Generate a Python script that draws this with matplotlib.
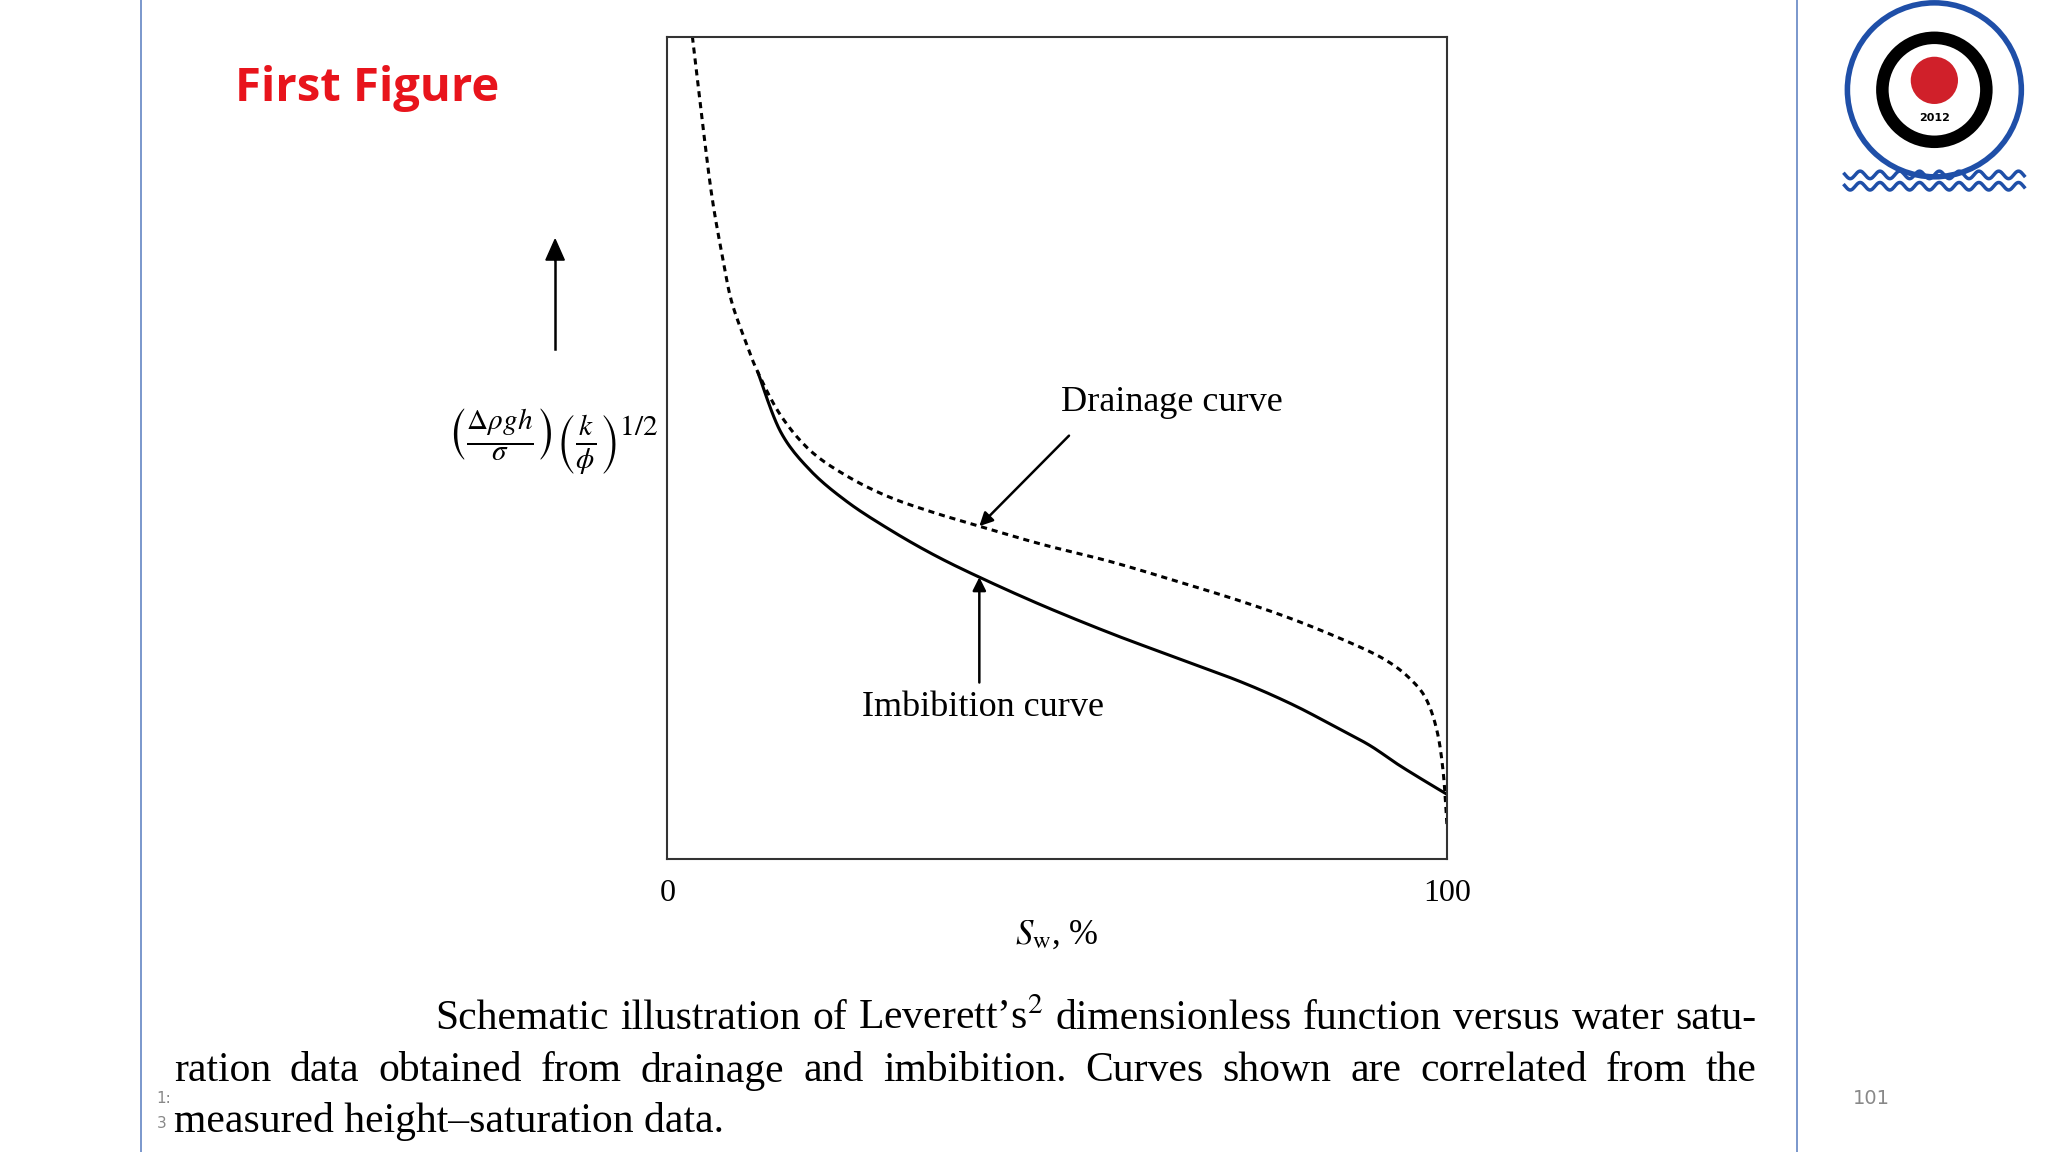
import matplotlib
matplotlib.use("Agg")
import matplotlib.pyplot as plt
import numpy as np
from matplotlib.patches import Circle

plt.rcParams['mathtext.fontset'] = 'stix'
serif = 'Liberation Serif'

drain_x = [3.2, 4.5, 5.7, 7.0, 8.2, 10.0, 11.6, 14.5, 18.3, 23.0, 28.3, 34.0, 40.0, 48.0, 56.8, 65.0, 73.5, 81.0, 88.6, 92.5, 95.3, 97.3, 98.7, 99.5, 100.0]
drain_y = [100, 89.5, 80.6, 73.5, 67.9, 63.0, 59.2, 54.0, 49.7, 46.6, 44.1, 42.2, 40.5, 38.3, 36.2, 33.9, 31.4, 28.9, 25.9, 24.0, 21.9, 19.5, 15.6, 10.5, 3.7]
imb_x = [11.6, 14.5, 18.3, 23.0, 28.3, 34.0, 40.0, 48.0, 56.8, 65.0, 73.5, 80.0, 85.3, 90.0, 93.6, 97.0, 100.0]
imb_y = [59.2, 52.0, 47.3, 43.5, 40.2, 37.1, 34.3, 30.9, 27.5, 24.6, 21.6, 18.9, 16.3, 13.9, 11.6, 9.6, 7.9]


def smooth(xs, ys, n=12):
    """Catmull-Rom rendering path through the read points."""
    P = np.column_stack([xs, ys]).astype(float)
    P = np.vstack([P[0], P, P[-1]])
    out = []
    for i in range(1, len(P) - 2):
        p0, p1, p2, p3 = P[i - 1], P[i], P[i + 1], P[i + 2]
        for t in np.linspace(0, 1, n, endpoint=False):
            t2, t3 = t * t, t * t * t
            out.append(0.5 * ((2 * p1) + (-p0 + p2) * t + (2 * p0 - 5 * p1 + 4 * p2 - p3) * t2
                              + (-p0 + 3 * p1 - 3 * p2 + p3) * t3))
    out.append(P[-2])
    out = np.array(out)
    return out[:, 0], out[:, 1]


W, H = 1568, 882
fx = lambda px: px / W
fy = lambda py: 1 - py / H

fig = plt.figure(figsize=(20.48, 11.52), dpi=100)
ax = fig.add_axes([fx(511), fy(658), fx(1108) - fx(511), fy(28) - fy(658)])
ax.plot(*smooth(drain_x, drain_y), color='black', lw=2.2, ls=(0, (2, 1.6)))
ax.plot(*smooth(imb_x, imb_y), color='black', lw=2.2)
ax.set_xlim(0, 100)
ax.set_ylim(0, 100)
ax.set_xticks([0, 100])
ax.set_xticklabels(['0', '100'], fontfamily=serif, fontsize=23)
ax.tick_params(axis='x', length=0, pad=14)
ax.set_yticks([])
for s in ax.spines.values():
    s.set_linewidth(1.5)
    s.set_color('#333333')
ax.set_xlabel(r'$S_\mathrm{w}$, %', fontsize=25, labelpad=8, fontfamily=serif)

ax.annotate('', xy=(40, 40.5), xytext=(51.5, 51.5),
            arrowprops=dict(arrowstyle='-|>', color='black', lw=1.8, mutation_scale=20, shrinkA=0, shrinkB=0))
ax.text(50.5, 55.5, 'Drainage curve', fontsize=26, fontfamily=serif, ha='left', va='center')
ax.annotate('', xy=(40, 34.3), xytext=(40, 21.5),
            arrowprops=dict(arrowstyle='-|>', color='black', lw=1.8, mutation_scale=20, shrinkA=0, shrinkB=0))
ax.text(25, 18.5, 'Imbibition curve', fontsize=26, fontfamily=serif, ha='left', va='center')

fig.add_artist(plt.Line2D([fx(425), fx(425)], [fy(267), fy(195)], color='black', lw=1.8))
fig.patches.append(matplotlib.patches.FancyArrow(fx(425), fy(200), 0, 0.001, width=0.0,
                   head_width=0.009, head_length=0.018, color='black', transform=fig.transFigure))
fig.text(fx(423), fy(338), r'$\left(\frac{\Delta\rho g h}{\sigma}\right)\left(\frac{k}{\phi}\right)^{1/2}$',
         fontsize=30, ha='center', va='center')

fig.text(fx(180), fy(68), 'First Figure', color='#e8141c', fontsize=34, fontweight='bold',
         fontfamily='Open Sans', ha='left', va='center')

for px in (108, 1376):
    fig.add_artist(plt.Line2D([fx(px), fx(px)], [0, 1], color='#6f8fc8', lw=1.3))

cap = dict(fontsize=30, fontfamily=serif, va='center')
renderer = fig.canvas.get_renderer()


def justified(text, x0, x1, y):
    words = text.split(' ')
    arts = [fig.text(0, fy(y), w, ha='left', **cap) for w in words]
    widths = [a.get_window_extent(renderer).width / fig.bbox.width for a in arts]
    gap = (fx(x1) - fx(x0) - sum(widths)) / (len(words) - 1)
    x = fx(x0)
    for a, w in zip(arts, widths):
        a.set_x(x)
        x += w + gap


justified('Schematic illustration of Leverett\u2019s$^{2}$ dimensionless function versus water satu-', 333, 1345, 780)
justified('ration data obtained from drainage and imbibition. Curves shown are correlated from the', 133, 1345, 820)
fig.text(fx(133), fy(859), 'measured height\u2013saturation data.', ha='left', **cap)
fig.text(fx(120), fy(841), '1:', fontsize=11, color='#888888', ha='left', va='center')
fig.text(fx(120), fy(860), '3', fontsize=11, color='#888888', ha='left', va='center')
fig.text(fx(1433), fy(841), '101', fontsize=14, color='#888888', ha='center', va='center')

# simple logo
lax = fig.add_axes([fx(1400), fy(152), fx(162), fy(0) - fy(152)])
lax.set_xlim(-1, 1); lax.set_ylim(-1.1, 1.0); lax.set_aspect('equal'); lax.axis('off')
lax.add_patch(Circle((0, 0.05), 0.92, fill=False, ec='#1f4fa8', lw=4))
lax.add_patch(Circle((0, 0.05), 0.55, fill=False, ec='black', lw=9))
lax.add_patch(Circle((0, 0.15), 0.25, fc='#d0202a', ec='none'))
lax.text(0, -0.25, '2012', fontsize=8, ha='center', va='center', fontweight='bold')
xs = np.linspace(-0.95, 0.95, 200)
for k in range(2):
    lax.plot(xs, -0.85 - 0.12 * k + 0.04 * np.sin(xs * 30), color='#1f4fa8', lw=2.5)

fig.savefig('out.png', dpi=100)
